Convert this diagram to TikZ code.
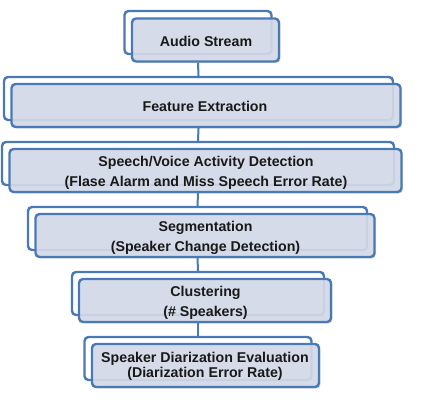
\documentclass[tikz,border=0pt]{standalone}
\usepackage{fontspec}
\setmainfont{Liberation Sans}
\usetikzlibrary{shadows}
\definecolor{bblue}{HTML}{4A7AB5}
\definecolor{bfill}{HTML}{D5DBE9}
\begin{document}
\begin{tikzpicture}[x=1pt,y=-1pt,
  back/.style={draw=bblue, line width=2.4pt, rounded corners=4pt, fill=white, inner sep=0pt, minimum height=43pt},
  front/.style={draw=bblue, line width=2.4pt, rounded corners=4pt, fill=bfill, fill opacity=0.9, inner sep=0pt, minimum height=43pt, drop shadow={shadow xshift=1.5pt, shadow yshift=-1.5pt, opacity=0.25}},
  label/.style={inner sep=0pt, align=center, font=\bfseries\fontsize{14.2}{20}\selectfont, text=black!90},
  conn/.style={draw=bblue, line width=2pt}]
\useasboundingbox (0,0) rectangle (428,405);
% stage 1
\node[back, minimum width=147pt] (b1) at (198,32.5) {};
\node[front, minimum width=147pt] (f1) at (205.5,40) {};
\node[label] (t1) at (206,41) {Audio Stream};
% stage 2
\node[back, minimum width=389pt] (b2) at (198.5,98.5) {};
\node[front, minimum width=389pt] (f2) at (206,105.5) {};
\node[label] (t2) at (205,106) {Feature Extraction};
% stage 3
\node[back, minimum width=392pt] (b3) at (198,163.5) {};
\node[front, minimum width=392pt] (f3) at (205.5,170.5) {};
\node[label] (t3) at (206,172.5) {Speech/Voice Activity Detection\\(Flase Alarm and Miss Speech Error Rate)};
% stage 4
\node[back, minimum width=339pt] (b4) at (197.5,228.5) {};
\node[front, minimum width=339pt] (f4) at (205,235.5) {};
\node[label] (t4) at (205.5,237.5) {Segmentation\\(Speaker Change Detection)};
% stage 5
\node[back, minimum width=252pt] (b5) at (198,293.5) {};
\node[front, minimum width=252pt] (f5) at (205,300.5) {};
\node[label] (t5) at (205.5,302.5) {Clustering\\(\# Speakers)};
% stage 6
\node[back, minimum width=227pt] (b6) at (198,358.5) {};
\node[front, minimum width=227pt] (f6) at (205.5,365.5) {};
\node[label, font=\bfseries\fontsize{14.2}{14.5}\selectfont] (t6) at (205,366.5) {Speaker Diarization Evaluation\\(Diarization Error Rate)};
% connectors
\draw[conn] (b1.south |- f1.south) -- (b2.north);
\draw[conn] (b2.south |- f2.south) -- (b3.north);
\draw[conn] (b3.south |- f3.south) -- (b4.north);
\draw[conn] (b4.south |- f4.south) -- (b5.north);
\draw[conn] (b5.south |- f5.south) -- (b6.north);
\end{tikzpicture}
\end{document}
